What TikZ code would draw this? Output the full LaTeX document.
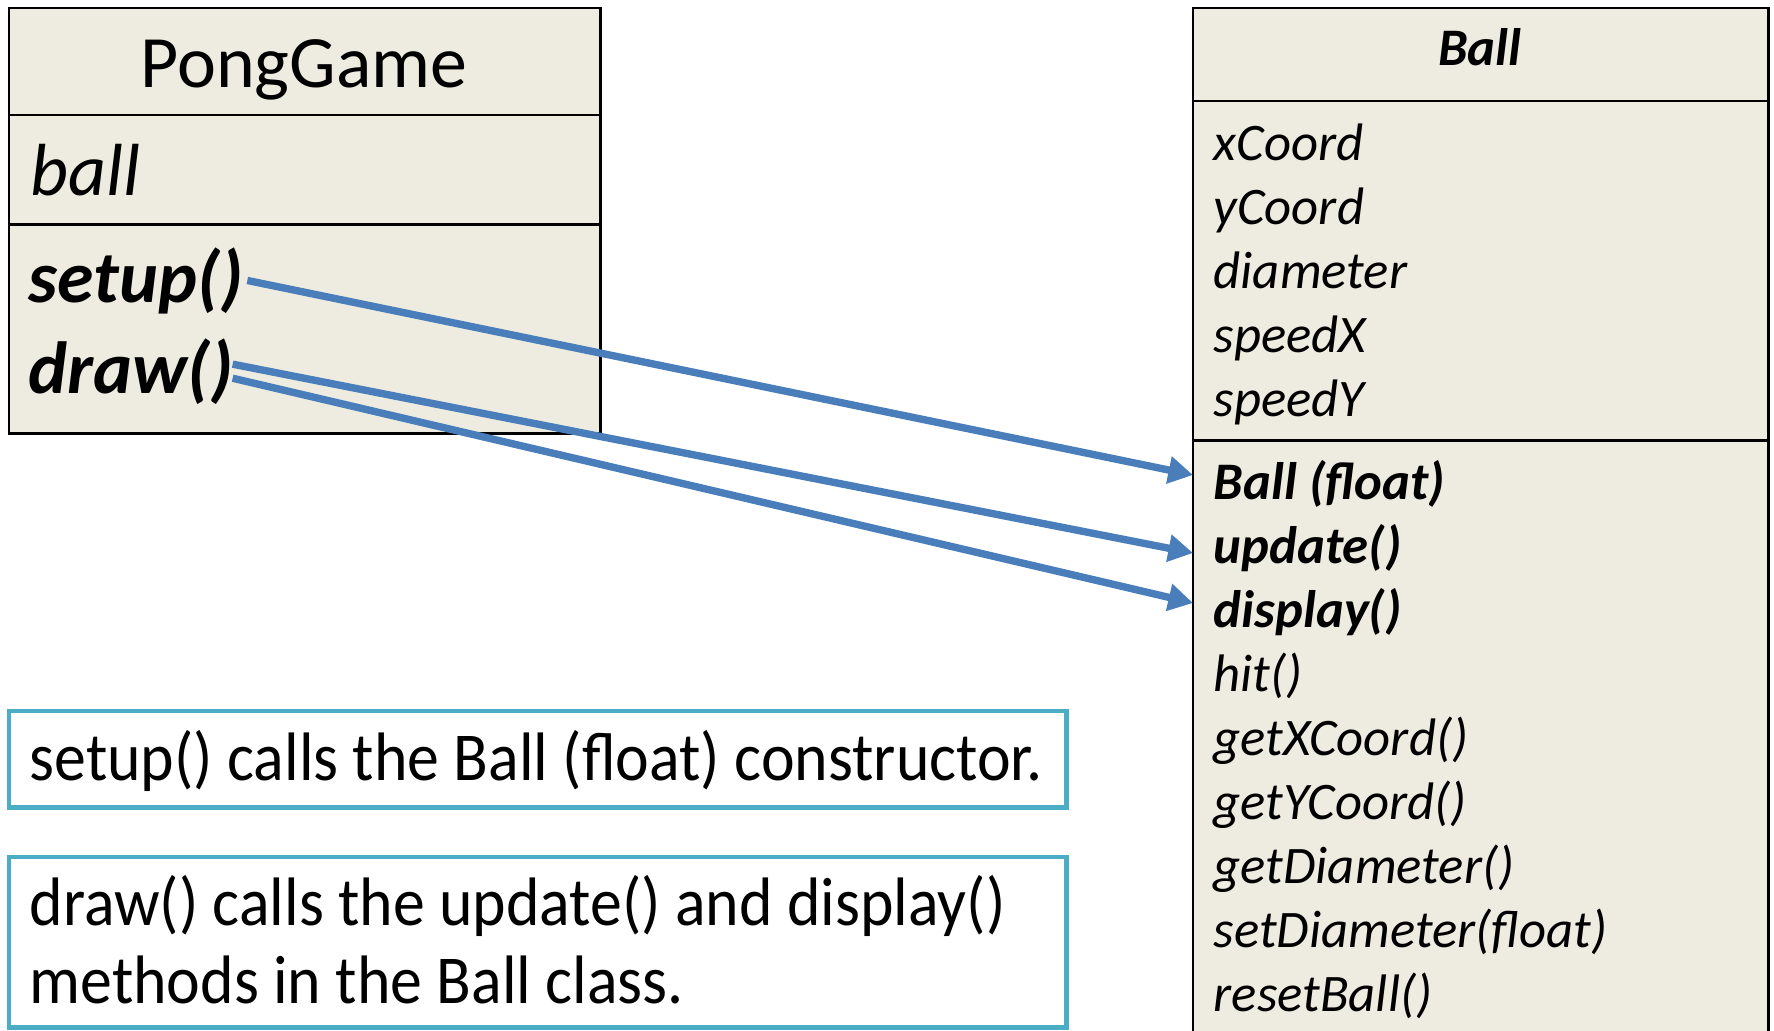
\documentclass[tikz,border=0pt]{standalone}
\usepackage{fontspec}
\setmainfont{Carlito}
\newfontfamily\notefont[FakeStretch=0.93]{Carlito}
\usetikzlibrary{arrows.meta,positioning}
\definecolor{classbg}{HTML}{EEECE1}
\definecolor{callblue}{HTML}{4A7EBB}
\definecolor{noteblue}{HTML}{4BACC6}
\begin{document}
\begin{tikzpicture}[x=0.01cm,y=-0.01cm,
	part/.style={draw=black,fill=classbg,line width=0.8pt,inner sep=0pt,outer sep=0pt,anchor=north west},
	note/.style={draw=noteblue,line width=1.4pt,outer sep=0pt,anchor=north west},
	call/.style={draw=callblue,line width=2.1pt,-{Triangle[length=7pt,width=7.5pt]}}]
	\useasboundingbox (0,0) rectangle (1774,1030);
	\clip (0,0) rectangle (1774,1030);

	% class boxes
	\node[part,minimum width=5.91cm,minimum height=1.07cm] (ponghead) at (9,8) {};
	\node[part,minimum width=5.91cm,minimum height=1.09cm] (pongattr) at (ponghead.south west) {};
	\node[part,minimum width=5.91cm,minimum height=2.09cm] (pongops) at (pongattr.south west) {};
	\node[part,minimum width=5.75cm,minimum height=0.93cm] (ballhead) at (1193,8) {};
	\node[part,minimum width=5.75cm,minimum height=3.39cm] (ballattr) at (ballhead.south west) {};
	\node[part,minimum width=5.75cm,minimum height=6.20cm] (ballops) at (ballattr.south west) {};

	% PongGame members
	\begin{scope}[every node/.style={inner sep=0pt,anchor=base west,font=\fontsize{21}{25}\selectfont}]
		\node[anchor=base] (pongname) at (304,87) {PongGame};
		\node (ball) at (30,195) {\itshape ball};
		\node (setup) at (28,302) {\bfseries\itshape setup()};
		\node (drawm) at (28,393) {\bfseries\itshape draw()};
	\end{scope}

	% Ball members
	\begin{scope}[every node/.style={inner sep=0pt,anchor=base west,font=\fontsize{15}{18}\selectfont\itshape}]
		\node[anchor=base,font=\fontsize{15}{18}\selectfont\bfseries\itshape] (ballname) at (1480,65) {Ball};
		\node (xcoord) at (1213,160) {xCoord};
		\node (ycoord) at (1213,224) {yCoord};
		\node (diam) at (1213,288) {diameter};
		\node (speedx) at (1213,352) {speedX};
		\node (speedy) at (1213,416) {speedY};
		\node (ctor) at (1213,499) {\bfseries Ball (float)};
		\node (update) at (1213,563) {\bfseries update()};
		\node (display) at (1213,627) {\bfseries display()};
		\node (hit) at (1213,691) {hit()};
		\node (getx) at (1213,755) {getXCoord()};
		\node (gety) at (1213,819) {getYCoord()};
		\node (getd) at (1213,883) {getDiameter()};
		\node (setd) at (1213,947) {setDiameter(float)};
		\node (reset) at (1213,1011) {resetBall()};
	\end{scope}

	% notes
	\node[note,minimum width=10.57cm,minimum height=0.96cm] (setupnote) at (9,711) {};
	\node[note,minimum width=10.57cm,minimum height=1.70cm] (drawnote) at (9,857) {};
	\begin{scope}[every node/.style={inner sep=0pt,anchor=base west,align=flush left,font=\notefont\fontsize{19.5}{22}\selectfont}]
		\node (setuptext) at (29,780) {setup() calls the Ball (float) constructor.};
		\node (drawtext) at (29,1003) {draw() calls the update() and display()\\methods in the Ball class.};
	\end{scope}

	% calls
	\coordinate (ctorin) at (1193,475);
	\coordinate (updatein) at (1193,553);
	\coordinate (displayin) at (1193,603);
	\draw[call] ([xshift=1pt]setup.east) -- (ctorin);
	\draw[call] ([xshift=-0.5pt,yshift=2pt]drawm.east) -- (updatein);
	\draw[call] ([xshift=-0.5pt,yshift=-2pt]drawm.east) -- (displayin);
\end{tikzpicture}
\end{document}
